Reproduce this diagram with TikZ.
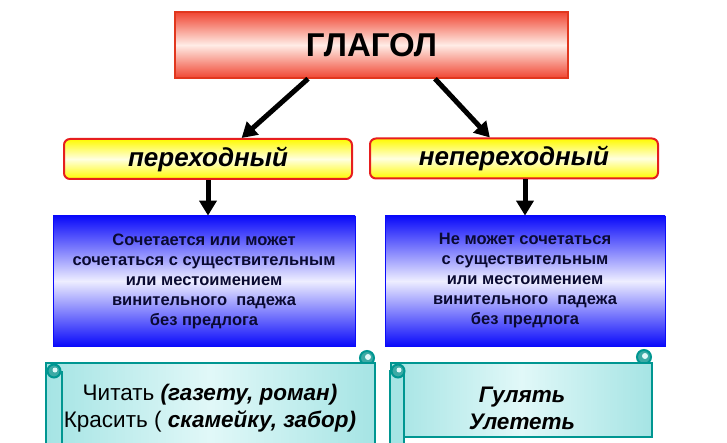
\documentclass[tikz,border=0pt]{standalone}
\usepackage{fontspec}
\setmainfont{Liberation Sans}
\usetikzlibrary{arrows.meta}

\definecolor{headline}{RGB}{225,55,30}
\definecolor{headred}{RGB}{240,70,50}
\definecolor{headpale}{RGB}{255,236,230}
\definecolor{kindline}{RGB}{230,30,30}
\definecolor{kindyellow}{RGB}{255,250,0}
\definecolor{kindpale}{RGB}{255,255,225}
\definecolor{ruleblue}{RGB}{10,10,250}
\definecolor{rulepale}{RGB}{238,238,255}
\definecolor{ruletext}{RGB}{10,10,50}
\definecolor{scrollline}{RGB}{0,150,145}
\definecolor{scrollfill}{RGB}{165,228,228}
\definecolor{scrollpale}{RGB}{225,248,248}
\definecolor{curlfill}{RGB}{60,170,165}

\tikzset{
  headbox/.style={draw=headline, line width=1.5pt, top color=headred,
    bottom color=headred, middle color=headpale, minimum width=393pt,
    minimum height=66pt, font=\bfseries\fontsize{33}{38}\selectfont},
  kindbox/.style={draw=kindline, line width=2pt, rounded corners=6pt,
    top color=kindyellow, bottom color=kindyellow, middle color=kindpale,
    minimum width=288pt, minimum height=40pt,
    font=\bfseries\itshape\fontsize{26}{30}\selectfont},
  rulebox/.style={draw=ruleblue, line width=0.8pt, top color=ruleblue,
    bottom color=ruleblue, middle color=rulepale, minimum height=130pt,
    align=center, text=ruletext, font=\bfseries\fontsize{16.5}{20}\selectfont},
  scrollbody/.style={draw=scrollline, line width=2pt, left color=scrollfill,
    right color=scrollfill, middle color=scrollpale},
  scrollcurl/.style={draw=scrollline, line width=2pt, fill=curlfill},
  scrolltext/.style={align=center, font=\fontsize{22.5}{27}\selectfont},
  bigarrow/.style={line width=5pt, -{Triangle[length=15pt,width=17pt]}},
}

\begin{document}
\begin{tikzpicture}[x=1pt,y=-1pt]
\useasboundingbox (0,0) rectangle (727,443);

% top and second row
\node[headbox] (glagol) at (371.5,45) {ГЛАГОЛ};
\node[kindbox] (perexod) at (208,159) {переходный};
\node[kindbox] (neperexod) at (514,158.5) {непереходный};

\draw[bigarrow] (glagol.208) -- (perexod.32);
\draw[bigarrow] (glagol.332) -- (neperexod.139);

% rule boxes
\node[rulebox, minimum width=302pt] (rule1) at (204,281)
  {Сочетается или может\\сочетаться с существительным\\или местоимением\\винительного\ \ падежа\\без предлога};
\node[rulebox, minimum width=280pt] (rule2) at (525,281)
  {Не может сочетаться\\с существительным\\или местоимением\\винительного\ \ падежа\\без предлога};

\draw[bigarrow] (perexod.south) -- (perexod.south |- rule1.north);
\draw[bigarrow] (neperexod.south -| rule2.north) -- (rule2.north);

% left scroll
\draw[scrollcurl] (367,358) circle [radius=7];
\node[scrollbody, minimum width=329pt, minimum height=92pt] (ex1) at (210.5,409) {};
\draw[scrollline, line width=2pt] ([xshift=17pt,yshift=-9pt]ex1.north west) -- ([xshift=17pt]ex1.south west);
\draw[scrollcurl] ([xshift=9pt,yshift=-9pt]ex1.north west) circle [radius=6.5];
\fill[scrollpale] ([xshift=10pt,yshift=-8pt]ex1.north west) circle [radius=2.5];
\fill[scrollpale] (368,357) circle [radius=3];
\node[scrolltext] (ex1text) at (210,408)
  {Читать \textbf{\textit{(газету, роман)}}\\Красить ( \textbf{\textit{скамейку, забор)}}};

% right scroll
\draw[scrollcurl] (644,357) circle [radius=7];
\node[scrollbody, minimum width=261pt, minimum height=74pt] (ex2) at (521.5,400) {};
\draw[scrollcurl, fill=scrollfill] ([yshift=-9pt]ex2.north west) rectangle ([xshift=14pt,yshift=-9pt]ex2.south west);
\draw[scrollcurl] ([xshift=8pt,yshift=-9pt]ex2.north west) circle [radius=6.5];
\fill[scrollpale] ([xshift=9pt,yshift=-8pt]ex2.north west) circle [radius=2.5];
\fill[scrollpale] (645,356) circle [radius=3];
\node[scrolltext, font=\bfseries\itshape\fontsize{22.5}{27}\selectfont] (ex2text) at (522,408)
  {Гулять\\Улететь};
\end{tikzpicture}
\end{document}
